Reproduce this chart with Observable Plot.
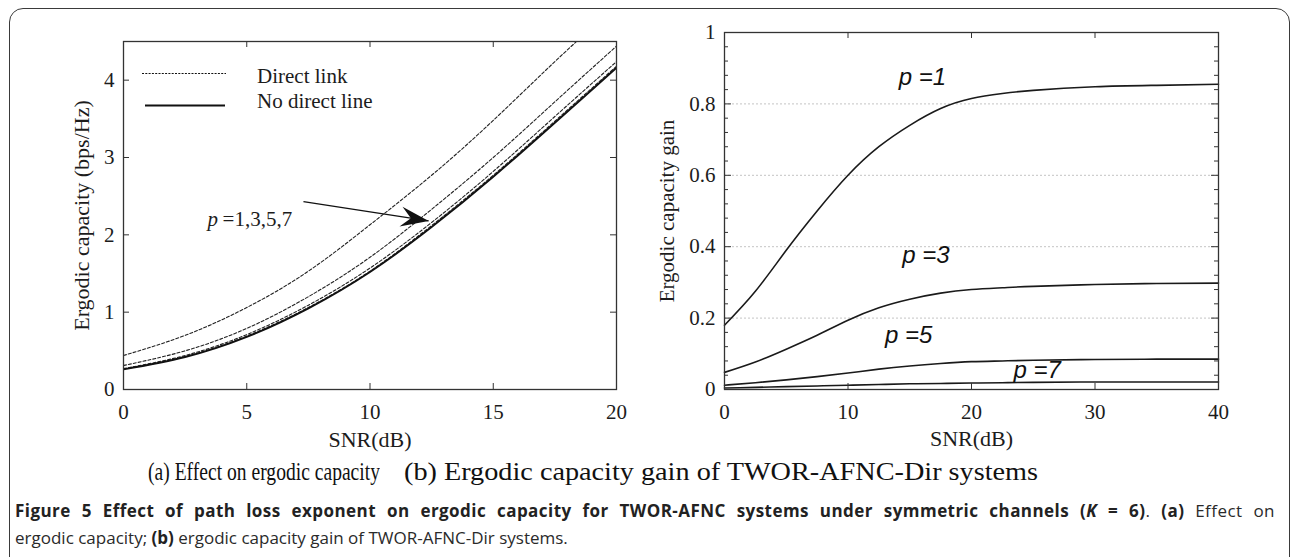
<!DOCTYPE html>
<html><head><meta charset="utf-8">
<script src="https://cdn.jsdelivr.net/npm/d3@7"></script>
<script src="https://cdn.jsdelivr.net/npm/@observablehq/plot@0.6"></script>
<style>
html,body{margin:0;padding:0;background:#fff;width:1292px;height:557px;overflow:hidden;position:relative}
#frame{position:absolute;left:9px;top:8px;width:1281px;height:640px;border:1.6px solid #3a3a3a;border-radius:14px;box-sizing:border-box}
#plotA{position:absolute;left:0;top:0}
#plotB{position:absolute;left:650px;top:0}
#legend{position:absolute;left:0;top:0}
.sub{position:absolute;font-family:"Liberation Serif",serif;font-size:26px;line-height:26px;color:#111;white-space:nowrap;transform-origin:0 0}
#cap{position:absolute;left:15px;top:497px;font-family:"Open Sans",sans-serif;font-size:17px;line-height:27px;color:#2a2a2a;white-space:nowrap}
#cap b{color:#222}
#cap1{display:block;width:1260px;white-space:normal;text-align:justify;text-align-last:justify;letter-spacing:0.45px}
</style></head><body>
<div id="frame"></div>
<div id="plotA"></div>
<div id="plotB"></div>
<svg id="legend" width="400" height="130"></svg>
<div class="sub" id="subA" style="left:148px;top:459px"></div>
<div class="sub" id="subB" style="left:404px;top:459px"></div>
<div id="cap"><span id="cap1"><b>Figure 5 Effect of path loss exponent on ergodic capacity for TWOR-AFNC systems under symmetric channels (<i>K</i> = 6)</b>. <b>(a)</b> Effect on</span>ergodic capacity; <b>(b)</b> ergodic capacity gain of TWOR-AFNC-Dir systems.</div>
<script>
// ---------- Panel (a): ergodic capacity ----------
const snrA = [0, 2.5, 5, 7.5, 10, 12.5, 15, 17.5, 20];
const noDirect = [0.26, 0.42, 0.68, 1.05, 1.52, 2.10, 2.75, 3.45, 4.16];
const directP1 = [0.44, 0.70, 1.06, 1.53, 2.13, 2.77, 3.48, 4.24, 4.97];
const directP3 = [0.31, 0.50, 0.79, 1.20, 1.71, 2.33, 3.00, 3.72, 4.44];
const directP5 = [0.27, 0.44, 0.71, 1.09, 1.57, 2.16, 2.82, 3.53, 4.24];
const directP7 = [0.265, 0.425, 0.69, 1.06, 1.53, 2.12, 2.77, 3.47, 4.18];
const xTicksA = [0, 5, 10, 15, 20];
const yTicksA = [0, 1, 2, 3, 4];
const legendLabels = ["Direct link", "No direct line"];
const annoItalic = "p";
const annoRest = "=1,3,5,7";
const annoPos = [3.41, 2.11];
const arrowFrom = [7.3, 2.43];
const arrowTo = [12.38, 2.18];
const titleXA = "SNR(dB)";
const titleYA = "Ergodic capacity (bps/Hz)";
const subCaptionA = "(a) Effect on ergodic capacity";

// ---------- Panel (b): ergodic capacity gain ----------
const snrB = [0, 2.5, 5, 7.5, 10, 12.5, 15, 17.5, 20, 22.5, 25, 30, 35, 40];
const gainP1 = [0.18, 0.275, 0.39, 0.50, 0.60, 0.68, 0.74, 0.787, 0.815, 0.829, 0.838, 0.848, 0.852, 0.855];
const gainP3 = [0.048, 0.077, 0.113, 0.152, 0.194, 0.229, 0.253, 0.270, 0.280, 0.285, 0.289, 0.294, 0.297, 0.298];
const gainP5 = [0.012, 0.019, 0.027, 0.036, 0.046, 0.057, 0.066, 0.073, 0.078, 0.080, 0.082, 0.084, 0.085, 0.085];
const gainP7 = [0.004, 0.006, 0.008, 0.010, 0.012, 0.014, 0.016, 0.017, 0.018, 0.019, 0.020, 0.021, 0.021, 0.021];
const xTicksB = [0, 10, 20, 30, 40];
const yTicksB = [0, 0.2, 0.4, 0.6, 0.8, 1];
const yMinorB = [0.04, 0.08, 0.12, 0.16, 0.24, 0.28, 0.32, 0.36, 0.44, 0.48, 0.52, 0.56, 0.64, 0.68, 0.72, 0.76, 0.84, 0.88, 0.92, 0.96];
const gridB = [0.2, 0.4, 0.6, 0.8];
const pLabels = ["p =1", "p =3", "p =5", "p =7"];
const pLabelX = [14.1, 14.4, 13.0, 23.4];
const pLabelY = [0.852, 0.353, 0.129, 0.032];
const titleXB = "SNR(dB)";
const titleYB = "Ergodic capacity gain";
const subCaptionB = "(b) Ergodic capacity gain of TWOR-AFNC-Dir systems";

// ---------- tidy tables ----------
const directSeries = [["1", directP1], ["3", directP3], ["5", directP5], ["7", directP7]];
const directData = directSeries.flatMap(([p, vals]) => snrA.map((s, i) => ({snr: s, v: vals[i], p})));
const noDirectData = snrA.map((s, i) => ({snr: s, v: noDirect[i]}));
const gainSeries = [["1", gainP1], ["3", gainP3], ["5", gainP5], ["7", gainP7]];
const gainData = gainSeries.flatMap(([p, vals]) => snrB.map((s, i) => ({snr: s, v: vals[i], p})));
const labelData = pLabels.map((t, i) => ({t, x: pLabelX[i], y: pLabelY[i]}));
const anno = {x: annoPos[0], y: annoPos[1]};
const arrow = {x1: arrowFrom[0], y1: arrowFrom[1], x2: arrowTo[0], y2: arrowTo[1]};

const serif = "'Liberation Serif', 'Times New Roman', serif";
const ink = "#1c1c1c";
const fmt = d => String(d);

// ---------- Plot (a) ----------
const WA = 650, HA = 470, mA = {l: 123, r: 34, t: 41, b: 81};
const iwA = WA - mA.l - mA.r, ihA = HA - mA.t - mA.b;
const tk = 6;
const xDomA = [0, 20], yDomA = [0, 4.5];
const angle = Math.atan2((arrow.y1 - arrow.y2) / (yDomA[1] - yDomA[0]) * ihA,
                         (arrow.x2 - arrow.x1) / (xDomA[1] - xDomA[0]) * iwA) * 180 / Math.PI;
const arrowHead = {
  draw(ctx) {
    ctx.moveTo(0, 0);
    ctx.lineTo(-28, -10);
    ctx.lineTo(-18, 0);
    ctx.lineTo(-28, 10);
    ctx.closePath();
  }
};

const plotA = Plot.plot({
  width: WA, height: HA,
  marginLeft: mA.l, marginRight: mA.r, marginTop: mA.t, marginBottom: mA.b,
  style: {fontFamily: serif, fontSize: "21px", color: ink, background: "transparent", overflow: "visible"},
  x: {domain: xDomA},
  y: {domain: yDomA},
  marks: [
    Plot.line(directData, {x: "snr", y: "v", z: "p", curve: "natural", stroke: "#222", strokeWidth: 1.1, strokeDasharray: "3,2", clip: true}),
    Plot.line(noDirectData, {x: "snr", y: "v", curve: "natural", stroke: "#111", strokeWidth: 1.9, clip: true}),
    Plot.frame({stroke: "#333", strokeWidth: 1.3}),
    Plot.ruleX(xTicksA, {insetTop: ihA - tk, stroke: "#333"}),
    Plot.ruleX(xTicksA, {insetBottom: ihA - tk, stroke: "#333"}),
    Plot.ruleY(yTicksA, {insetRight: iwA - tk, stroke: "#333"}),
    Plot.ruleY(yTicksA, {insetLeft: iwA - tk, stroke: "#333"}),
    Plot.axisX({ticks: xTicksA, tickSize: 0, tickPadding: 15, label: null, tickFormat: fmt}),
    Plot.axisY({ticks: yTicksA, tickSize: 0, tickPadding: 9, label: null, tickFormat: fmt}),
    Plot.text([titleXA], {frameAnchor: "bottom", dy: 57, lineAnchor: "bottom", textAnchor: "middle", fontSize: 22}),
    Plot.text([titleYA], {frameAnchor: "left", rotate: -90, dx: -35, lineAnchor: "bottom", textAnchor: "middle", fontSize: 22}),
    Plot.text([anno], {x: "x", y: "y", text: () => annoItalic, textAnchor: "start", lineAnchor: "bottom", fontStyle: "italic", fontSize: 21}),
    Plot.text([anno], {x: "x", y: "y", text: () => annoRest, textAnchor: "start", lineAnchor: "bottom", dx: 15, fontSize: 21}),
    Plot.link([arrow], {x1: "x1", y1: "y1", x2: "x2", y2: "y2", stroke: "#111", strokeWidth: 1.3}),
    Plot.dot([arrow], {x: "x2", y: "y2", symbol: arrowHead, fill: "#111", stroke: "none", rotate: angle})
  ]
});
document.getElementById("plotA").appendChild(plotA);

// ---------- Plot (b) ----------
const WB = 642, HB = 470, mB = {l: 74, r: 74, t: 32, b: 81};
const iwB = WB - mB.l - mB.r, ihB = HB - mB.t - mB.b;
const plotB = Plot.plot({
  width: WB, height: HB,
  marginLeft: mB.l, marginRight: mB.r, marginTop: mB.t, marginBottom: mB.b,
  style: {fontFamily: serif, fontSize: "21px", color: ink, background: "transparent", overflow: "visible"},
  x: {domain: [0, 40]},
  y: {domain: [0, 1]},
  marks: [
    Plot.ruleY(gridB, {stroke: "#c4c4c4", strokeDasharray: "2,2", strokeWidth: 1}),
    Plot.line(gainData, {x: "snr", y: "v", z: "p", curve: "natural", stroke: "#1a1a1a", strokeWidth: 1.6}),
    Plot.frame({stroke: "#333", strokeWidth: 1.3}),
    Plot.ruleX(xTicksB, {insetTop: ihB - tk, stroke: "#333"}),
    Plot.ruleX(xTicksB, {insetBottom: ihB - tk, stroke: "#333"}),
    Plot.ruleY(yTicksB, {insetRight: iwB - 7, stroke: "#333"}),
    Plot.ruleY(yTicksB, {insetLeft: iwB - 7, stroke: "#333"}),
    Plot.ruleY(yMinorB, {insetRight: iwB - 4, stroke: "#333"}),
    Plot.ruleY(yMinorB, {insetLeft: iwB - 4, stroke: "#333"}),
    Plot.axisX({ticks: xTicksB, tickSize: 0, tickPadding: 15, label: null, tickFormat: fmt}),
    Plot.axisY({ticks: yTicksB, tickSize: 0, tickPadding: 9, label: null, tickFormat: fmt}),
    Plot.text([titleXB], {frameAnchor: "bottom", dy: 56, lineAnchor: "bottom", textAnchor: "middle", fontSize: 22}),
    Plot.text([titleYB], {frameAnchor: "left", rotate: -90, dx: -51, lineAnchor: "bottom", textAnchor: "middle", fontSize: 21}),
    Plot.text(labelData, {x: "x", y: "y", text: "t", textAnchor: "start", lineAnchor: "bottom",
      fontFamily: "'Liberation Sans', Arial, sans-serif", fontStyle: "italic", fontSize: 24, fill: "#111"})
  ]
});
document.getElementById("plotB").appendChild(plotB);

// ---------- legend (panel a) ----------
const lg = d3.select("#legend");
const legendStyles = [{dash: "2,1.3", w: 1.1, x1: 142, x2: 226}, {dash: null, w: 1.9, x1: 145, x2: 225}];
legendLabels.forEach((t, i) => {
  const yLine = i === 0 ? 73.5 : 105.5;
  const yText = i === 0 ? 83 : 108;
  const s = legendStyles[i];
  lg.append("line").attr("x1", s.x1).attr("x2", s.x2).attr("y1", yLine).attr("y2", yLine)
    .attr("stroke", "#111").attr("stroke-width", s.w).attr("stroke-dasharray", s.dash);
  lg.append("text").attr("x", 257).attr("y", yText).text(t)
    .attr("font-family", serif).attr("font-size", 21).attr("fill", ink);
});

// ---------- sub-captions, fitted to the widths they span in the figure ----------
function fitWidth(id, text, target) {
  const el = document.getElementById(id);
  el.textContent = text;
  const w = el.getBoundingClientRect().width;
  el.style.transform = `scaleX(${target / w})`;
}
fitWidth("subA", subCaptionA, 232);
fitWidth("subB", subCaptionB, 634);
</script>
</body></html>
